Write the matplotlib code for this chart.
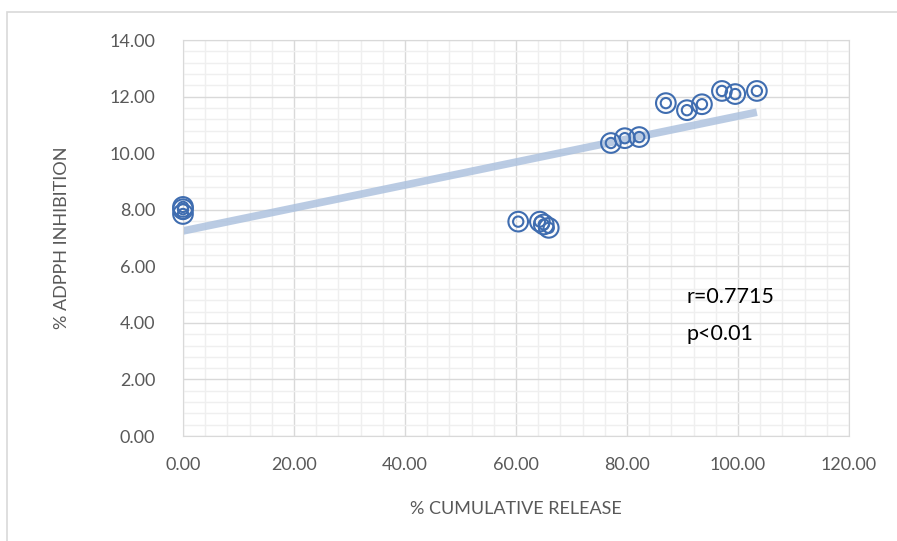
import numpy as np
import matplotlib
matplotlib.use('Agg')
import matplotlib.pyplot as plt
from matplotlib.patches import Rectangle
from matplotlib.ticker import MultipleLocator, FormatStrFormatter

plt.rcParams['font.family'] = ['Lato', 'DejaVu Sans']

# % cumulative release vs % ADPPH inhibition
release = [0.0, 0.0, 0.0, 60.4, 64.3, 65.0, 65.9,
           77.1, 79.6, 82.2, 87.0, 90.8, 93.5, 97.1, 99.5, 103.4]
inhibition = [8.10, 8.02, 7.85, 7.58, 7.58, 7.48, 7.36,
              10.36, 10.53, 10.57, 11.77, 11.52, 11.73, 12.20, 12.09, 12.20]
# linear trendline (intercept, slope)
trend_coef = [7.25, 0.0406]
stats_text = ['r=0.7715', 'p<0.01']

grey = '#595959'
fig = plt.figure(figsize=(8.97, 5.41), dpi=100)
ax = fig.add_axes([0.204, 0.194, 0.7425, 0.732])

# outer chart frame
fig.patches.append(Rectangle((7 / 897, -0.1), 1.2, 1.1 - 12 / 541,
                             transform=fig.transFigure, fill=False,
                             edgecolor='#D9D9D9', linewidth=1.2))

ax.set_xlim(0, 120)
ax.set_ylim(0, 14)
ax.xaxis.set_major_locator(MultipleLocator(20))
ax.xaxis.set_minor_locator(MultipleLocator(4))
ax.yaxis.set_major_locator(MultipleLocator(2))
ax.yaxis.set_minor_locator(MultipleLocator(0.4))
ax.xaxis.set_major_formatter(FormatStrFormatter('%.2f'))
ax.yaxis.set_major_formatter(FormatStrFormatter('%.2f'))
ax.grid(which='major', color='#D9D9D9', linewidth=1.0)
ax.grid(which='minor', color='#EFEFEF', linewidth=1.0)
ax.set_axisbelow(True)
for s in ax.spines.values():
    s.set_color('#D9D9D9')
ax.tick_params(which='both', length=0, labelsize=13, colors=grey)
ax.tick_params(axis='x', pad=15)
ax.tick_params(axis='y', pad=20)

x = np.array(release)
y = np.array(inhibition)
xt = np.array([0, x.max()])
ax.plot(xt, trend_coef[0] + trend_coef[1] * xt, color='#A9BFDD', linewidth=5.5,
        alpha=0.8, solid_capstyle='butt', zorder=2)

# double ring markers
mc = '#3F6DB0'
ax.scatter(x, y, s=200, facecolors='none', edgecolors=mc, linewidths=1.5,
           zorder=3, clip_on=False)
ax.scatter(x, y, s=55, facecolors='none', edgecolors=mc, linewidths=1.5,
           zorder=3, clip_on=False)

ax.text(90.8, 4.9, stats_text[0], fontsize=15.5, color='black', va='center')
ax.text(90.8, 3.6, stats_text[1], fontsize=15.5, color='black', va='center')

ax.set_xlabel('% CUMULATIVE RELEASE', fontsize=13, color=grey, labelpad=20)
ax.set_ylabel('% ADPPH INHIBITION', fontsize=13, color=grey, labelpad=28)

fig.savefig('out.png', dpi=100)
